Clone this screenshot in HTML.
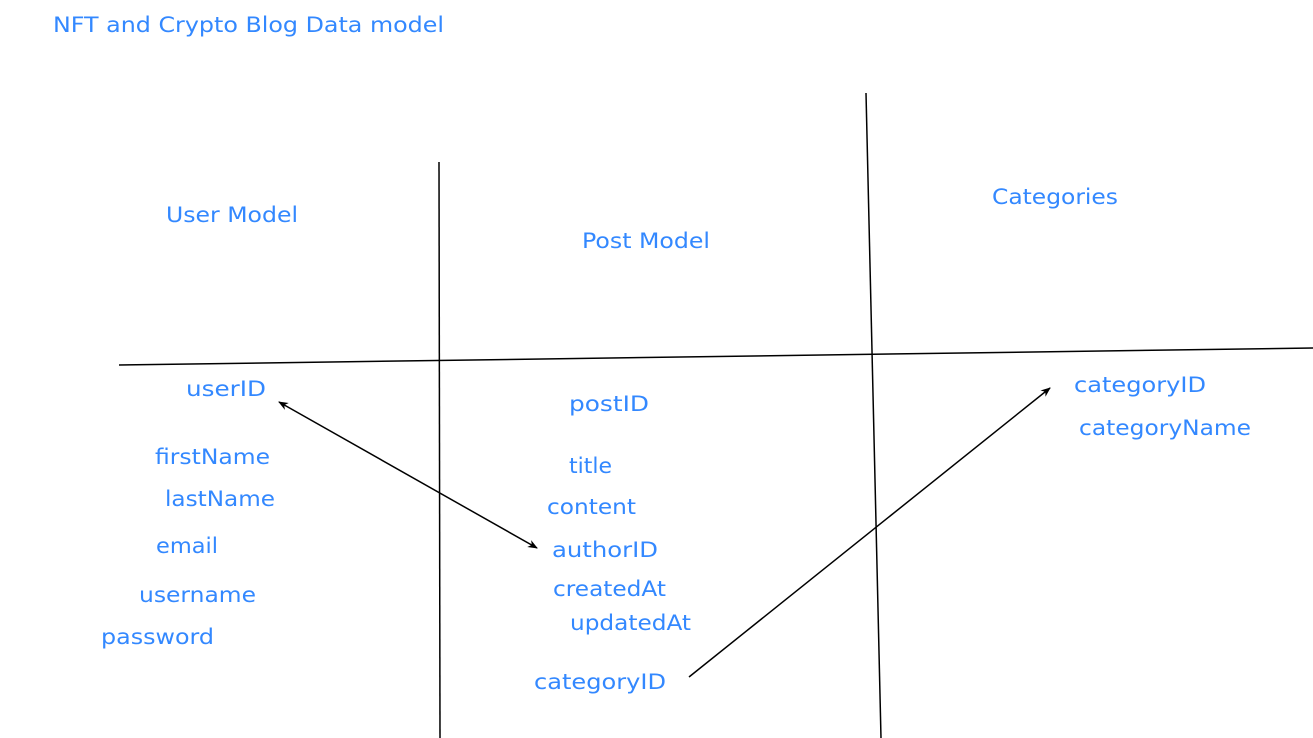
<!DOCTYPE html>
<html><head><meta charset="utf-8"><style>
html,body{margin:0;padding:0;background:#fff;width:1313px;height:738px;overflow:hidden}
text{font-family:"DejaVu Sans","Liberation Sans",sans-serif;font-size:21px;fill:#3388ff}
</style></head><body>
<svg width="1313" height="738" viewBox="0 0 1313 738" xmlns="http://www.w3.org/2000/svg">
<defs>
<marker id="a" viewBox="0 0 10 10" refX="9" refY="5" markerWidth="10" markerHeight="10" markerUnits="userSpaceOnUse" orient="auto-start-reverse">
<path d="M0,1 L10,5 L0,9 L3,5 Z" fill="#000"/>
</marker>
</defs>
<g stroke="#000" stroke-width="1.5" fill="none">
<line x1="439" y1="162" x2="440" y2="738"/>
<line x1="866" y1="93" x2="881" y2="738"/>
<line x1="119" y1="365" x2="1313" y2="348"/>
<line x1="279" y1="402" x2="537" y2="548" marker-start="url(#a)" marker-end="url(#a)"/>
<line x1="689" y1="677" x2="1050" y2="388" marker-end="url(#a)"/>
</g>
<g lengthAdjust="spacingAndGlyphs">
<text x="53" y="32" textLength="391" lengthAdjust="spacingAndGlyphs">NFT and Crypto Blog Data model</text>
<text x="166" y="222" textLength="132" lengthAdjust="spacingAndGlyphs">User Model</text>
<text x="582" y="248" textLength="128" lengthAdjust="spacingAndGlyphs">Post Model</text>
<text x="992" y="204" textLength="126" lengthAdjust="spacingAndGlyphs">Categories</text>
<text x="186" y="396" textLength="80" lengthAdjust="spacingAndGlyphs">userID</text>
<text x="569" y="411" textLength="80" lengthAdjust="spacingAndGlyphs">postID</text>
<text x="1074" y="392" textLength="132" lengthAdjust="spacingAndGlyphs">categoryID</text>
<text x="1079" y="435" textLength="172" lengthAdjust="spacingAndGlyphs">categoryName</text>
<text x="155" y="464" textLength="115" lengthAdjust="spacingAndGlyphs">firstName</text>
<text x="569" y="473" textLength="43" lengthAdjust="spacingAndGlyphs">title</text>
<text x="165" y="506" textLength="110" lengthAdjust="spacingAndGlyphs">lastName</text>
<text x="547" y="514" textLength="89" lengthAdjust="spacingAndGlyphs">content</text>
<text x="156" y="553" textLength="62" lengthAdjust="spacingAndGlyphs">email</text>
<text x="552" y="557" textLength="106" lengthAdjust="spacingAndGlyphs">authorID</text>
<text x="139" y="602" textLength="117" lengthAdjust="spacingAndGlyphs">username</text>
<text x="553" y="596" textLength="113" lengthAdjust="spacingAndGlyphs">createdAt</text>
<text x="101" y="644" textLength="113" lengthAdjust="spacingAndGlyphs">password</text>
<text x="570" y="630" textLength="121" lengthAdjust="spacingAndGlyphs">updatedAt</text>
<text x="534" y="689" textLength="132" lengthAdjust="spacingAndGlyphs">categoryID</text>
</g>
</svg>
</body></html>
